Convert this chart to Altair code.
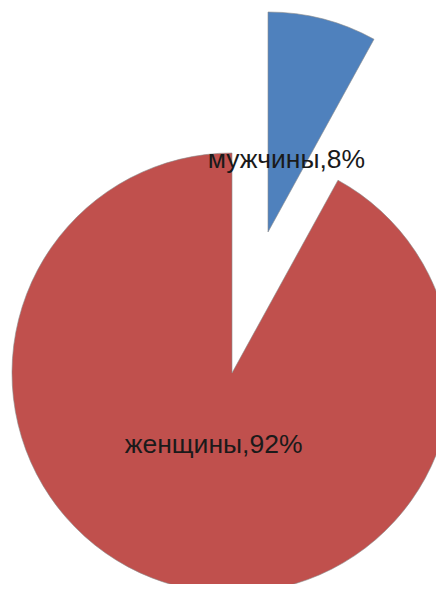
import altair as alt
import pandas as pd

categories = ["мужчины", "женщины"]
values = [8, 92]
colors = ["#4F81BD", "#C0504D"]

df = pd.DataFrame({"category": categories, "value": values, "idx": list(range(len(categories)))})

W, H = 428, 576
R = 220
CX, CY = 224, 365          # pie centre (chart coords)
EX, EY = 36, -141          # explode offset for the male slice
LABEL_R = 74

base = alt.Chart(df).transform_calculate(
    label="datum.category + ',' + datum.value + '%'"
).encode(
    theta=alt.Theta("value:Q", stack=True),
    order=alt.Order("idx:Q"),
    color=alt.Color("category:N", scale=alt.Scale(domain=categories, range=colors), legend=None),
)

def show(cat):
    return alt.condition(alt.datum.category == cat, alt.value(1), alt.value(0))

arc_style = dict(radius=R, clip=True, stroke="#8a8a8a", strokeWidth=0.6)
red_arc = base.mark_arc(**arc_style).encode(
    x=alt.value(CX), y=alt.value(CY), opacity=show("женщины")
)
blue_arc = base.mark_arc(**arc_style).encode(
    x=alt.value(CX + EX), y=alt.value(CY + EY), opacity=show("мужчины")
)
text_style = dict(radius=LABEL_R, font="Liberation Sans", fontSize=26.5,
                  baseline="middle", align="center")
red_text = base.mark_text(**text_style).encode(
    x=alt.value(CX), y=alt.value(CY), text="label:N", opacity=show("женщины"),
    color=alt.value("#1a1a1a"),
)
blue_text = base.mark_text(**text_style).encode(
    x=alt.value(CX + EX), y=alt.value(CY + EY), text="label:N", opacity=show("мужчины"),
    color=alt.value("#1a1a1a"),
)

chart = alt.layer(red_arc, blue_arc, red_text, blue_text).properties(
    width=W, height=H, padding=0, autosize=alt.AutoSizeParams(type="none"),
    background="white",
).configure_view(stroke=None)

chart.save("out.html", embed_options={"renderer": "svg", "actions": False})
